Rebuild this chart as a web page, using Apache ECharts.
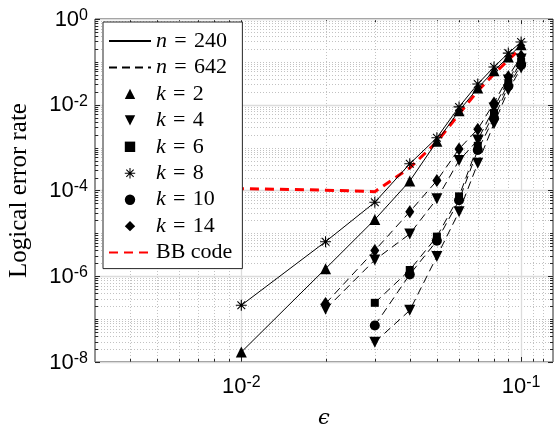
<!DOCTYPE html>
<html>
<head>
<meta charset="utf-8">
<script src="https://cdn.jsdelivr.net/npm/echarts@6/dist/echarts.min.js"></script>
<style>
html, body { margin: 0; padding: 0; background: #fff; }
#chart { width: 555px; height: 428px; }
</style>
</head>
<body>
<div id="chart"></div>
<script>
// Physical error rates sampled by each family of runs
const epsFrom1 = [0.01, 0.02, 0.03, 0.04, 0.05, 0.06, 0.07, 0.08, 0.09, 0.1];
const epsFrom2 = [0.02, 0.03, 0.04, 0.05, 0.06, 0.07, 0.08, 0.09, 0.1];
const epsFrom3 = [0.03, 0.04, 0.05, 0.06, 0.07, 0.08, 0.09, 0.1];
const epsBB    = [0.004, 0.01, 0.02, 0.03, 0.04, 0.05, 0.06, 0.07, 0.08, 0.09, 0.1];

// Logical error rates, n = 240 (solid)
const n240k2 = [1.7e-8, 1.5e-6, 2.1e-5, 1.66e-4, 1.4e-3, 7.2e-3, 2.45e-2, 6.2e-2, 0.13, 0.25];
const n240k8 = [2.1e-7, 6.4e-6, 5.3e-5, 4.2e-4, 1.7e-3, 8.9e-3, 3.05e-2, 7.6e-2, 0.16, 0.29];

// Logical error rates, n = 642 (dashed)
const n642k14 = [2.3e-7, 4.0e-6, 3.2e-5, 1.7e-4, 9.3e-4, 2.7e-3, 1.1e-2, 4.5e-2, 0.137];
const n642k4a = [1.7e-7, 2.4e-6, 9.7e-6, 6.4e-5, 5.0e-4, 1.5e-3, 8.4e-3, 3.8e-2, 0.117];
const n642k6  = [2.4e-7, 1.4e-6, 8.4e-6, 7.3e-5, 1.1e-3, 6.4e-3, 3.2e-2, 0.1];
const n642k10 = [7.1e-8, 1.1e-6, 6.7e-6, 5.9e-5, 8.8e-4, 4.9e-3, 2.7e-2, 8.5e-2];
const n642k4b = [2.9e-8, 1.6e-7, 2.9e-6, 3.2e-5, 4.3e-4, 3.6e-3, 2.2e-2, 7.2e-2];

// Reference BB code curve
const bbCode = [1.17e-4, 1.10e-4, 1.02e-4, 9.4e-5, 3.37e-4, 1.36e-3, 6.1e-3, 2.1e-2, 5.2e-2, 0.111, 0.211];

// Tick labels (powers of ten) and grid positions
const xTickExponents = [-2, -1];
const yTickExponents = [-8, -6, -4, -2, 0];
const xMajorGrid = [0.01, 0.1];
const xMinorGrid = [0.004, 0.005, 0.006, 0.007, 0.008, 0.009,
                    0.02, 0.03, 0.04, 0.05, 0.06, 0.07, 0.08, 0.09, 0.11, 0.12];
const yMajorGrid = [1e-8, 1e-6, 1e-4, 1e-2, 1];
const minorMultipliers = [2, 3, 4, 5, 6, 7, 8, 9];
const yDecades = [-8, -7, -6, -5, -4, -3, -2, -1];

const yMinorGrid = [];
yDecades.forEach(function (e) {
  if (e % 2 !== 0) yMinorGrid.push(Math.pow(10, e));
  minorMultipliers.forEach(function (m) { yMinorGrid.push(m * Math.pow(10, e)); });
});

function pairs(xs, ys) { return xs.map(function (x, i) { return [x, ys[i]]; }); }

// MATLAB-style '*' marker built from four thin bars
const asterisk = 'path://M0 9L20 9L20 11L0 11Z M9 0L11 0L11 20L9 20Z ' +
  'M2.22 3.64L3.64 2.22L17.78 16.36L16.36 17.78Z M16.36 2.22L17.78 3.64L3.64 17.78L2.22 16.36Z';

const markers = {
  'k = 2':  { symbol: 'triangle', symbolSize: 11, symbolRotate: 0 },
  'k = 4':  { symbol: 'triangle', symbolSize: 11, symbolRotate: 180 },
  'k = 6':  { symbol: 'rect', symbolSize: 8, symbolRotate: 0 },
  'k = 8':  { symbol: asterisk, symbolSize: 11, symbolRotate: 0 },
  'k = 10': { symbol: 'circle', symbolSize: 10, symbolRotate: 0 },
  'k = 14': { symbol: 'diamond', symbolSize: [9, 13], symbolRotate: 0 }
};

const solid = { color: '#000', width: 1, type: 'solid' };
const dashed = { color: '#000', width: 1, type: [8, 5] };
const hiddenSymbol = { color: '#000', opacity: 0 };

function curve(name, k, xs, ys, lineStyle) {
  const m = markers[k];
  return {
    type: 'line', name: name, data: pairs(xs, ys),
    symbol: m.symbol, symbolSize: m.symbolSize, symbolRotate: m.symbolRotate,
    showAllSymbol: true, lineStyle: lineStyle, itemStyle: { color: '#000' },
    z: 3, silent: true
  };
}

// Light grid lines plus inward tick marks on all four sides
function gridSeries(axis, values, major) {
  return {
    type: 'custom', silent: true, z: 1, clip: false,
    data: values.map(function (v) { return axis === 'x' ? [v, 1] : [0.01, v]; }),
    renderItem: function (params, api) {
      const cs = params.coordSys;
      const left = cs.x, top = cs.y, right = cs.x + cs.width, bottom = cs.y + cs.height;
      const len = major ? 5 : 3;
      const gridStyle = major
        ? { stroke: '#dcdcdc', lineWidth: 1.3 }
        : { stroke: '#c2c2c2', lineWidth: 1, lineDash: [1, 2] };
      const tickStyle = { stroke: '#262626', lineWidth: 1 };
      const p = api.coord([api.value(0), api.value(1)]);
      const children = [];
      if (axis === 'x') {
        const x = Math.round(p[0]) + 0.5;
        children.push({ type: 'line', shape: { x1: x, y1: top, x2: x, y2: bottom }, style: gridStyle });
        children.push({ type: 'line', shape: { x1: x, y1: bottom, x2: x, y2: bottom - len }, style: tickStyle });
        children.push({ type: 'line', shape: { x1: x, y1: top, x2: x, y2: top + len }, style: tickStyle });
      } else {
        const y = Math.round(p[1]) + 0.5;
        children.push({ type: 'line', shape: { x1: left, y1: y, x2: right, y2: y }, style: gridStyle });
        children.push({ type: 'line', shape: { x1: left, y1: y, x2: left + len, y2: y }, style: tickStyle });
        children.push({ type: 'line', shape: { x1: right, y1: y, x2: right - len, y2: y }, style: tickStyle });
      }
      return { type: 'group', children: children };
    }
  };
}

function powerLabel(exponents) {
  return function (value) {
    const e = Math.log10(value);
    const r = Math.round(e);
    if (Math.abs(e - r) > 1e-6 || exponents.indexOf(r) < 0) return '';
    return '{base|10}{sup|' + r + '}';
  };
}

const tickRich = {
  base: { fontFamily: 'Liberation Sans', fontSize: 22, lineHeight: 23, verticalAlign: 'bottom', color: '#000' },
  sup:  { fontFamily: 'Liberation Sans', fontSize: 16, lineHeight: 17, verticalAlign: 'top', padding: [0, 0, 12, 0], color: '#000' }
};

const lineOnly = ['n = 240', 'n = 642', 'BB code'];
const legendNames = ['n = 240', 'n = 642', 'k = 2', 'k = 4', 'k = 6', 'k = 8', 'k = 10', 'k = 14', 'BB code'];

const series = [
  gridSeries('x', xMinorGrid, false),
  gridSeries('y', yMinorGrid, false),
  gridSeries('x', xMajorGrid, true),
  gridSeries('y', yMajorGrid, true),

  // legend-only entries for line style and marker meaning
  { type: 'line', name: 'n = 240', data: [], symbol: 'none', lineStyle: solid, itemStyle: hiddenSymbol },
  { type: 'line', name: 'n = 642', data: [], symbol: 'none', lineStyle: dashed, itemStyle: hiddenSymbol },
  ...['k = 2', 'k = 4', 'k = 6', 'k = 8', 'k = 10', 'k = 14'].map(function (k) {
    const m = markers[k];
    return { type: 'line', name: k, data: [], symbol: m.symbol, symbolSize: m.symbolSize,
             symbolRotate: m.symbolRotate, itemStyle: { color: '#000' },
             lineStyle: { opacity: 0, width: 1 } };
  }),

  curve('n = 240, k = 8', 'k = 8', epsFrom1, n240k8, solid),
  curve('n = 240, k = 2', 'k = 2', epsFrom1, n240k2, solid),
  curve('n = 642, k = 14', 'k = 14', epsFrom2, n642k14, dashed),
  curve('n = 642, k = 4', 'k = 4', epsFrom2, n642k4a, dashed),
  curve('n = 642, k = 6', 'k = 6', epsFrom3, n642k6, dashed),
  curve('n = 642, k = 10', 'k = 10', epsFrom3, n642k10, dashed),
  curve('n = 642, k = 4 ', 'k = 4', epsFrom3, n642k4b, dashed),

  {
    type: 'line', name: 'BB code', data: pairs(epsBB, bbCode), symbol: 'none',
    lineStyle: { color: '#ff0000', width: 3, type: [9, 6] }, itemStyle: { color: '#ff0000', opacity: 0 },
    z: 2, silent: true
  }
];

const chart = echarts.init(document.getElementById('chart'), null, { renderer: 'canvas' });
chart.setOption({
  animation: false,
  backgroundColor: '#fff',
  grid: {
    left: 95, top: 19, width: 458, height: 343,
    show: true, borderColor: '#262626', borderWidth: 1, backgroundColor: 'transparent',
    containLabel: false, outerBoundsMode: 'none'
  },
  xAxis: {
    type: 'log', logBase: 10, min: 0.003, max: 0.13,
    axisLine: { show: false }, axisTick: { show: false },
    splitLine: { show: false }, minorTick: { show: false }, minorSplitLine: { show: false },
    axisLabel: { formatter: powerLabel(xTickExponents), margin: 13, rich: tickRich, hideOverlap: false },
    name: '\u03F5', nameLocation: 'middle', nameGap: 46,
    nameTextStyle: { fontFamily: 'DejaVu Serif', fontStyle: 'italic', fontSize: 21, color: '#000' }
  },
  yAxis: {
    type: 'log', logBase: 10, min: 1e-8, max: 1,
    axisLine: { show: false }, axisTick: { show: false },
    splitLine: { show: false }, minorTick: { show: false }, minorSplitLine: { show: false },
    axisLabel: { formatter: powerLabel(yTickExponents), margin: 7, rich: tickRich, hideOverlap: false },
    name: 'Logical error rate', nameLocation: 'middle', nameGap: 63,
    nameTextStyle: { fontFamily: 'Liberation Serif', fontSize: 25, color: '#000' }
  },
  legend: {
    data: legendNames.map(function (n) {
      return lineOnly.indexOf(n) >= 0 ? { name: n, itemStyle: { opacity: 0 } } : { name: n };
    }),
    orient: 'vertical', left: 103, top: 22,
    itemWidth: 42, itemHeight: 13, itemGap: 4.45,
    padding: [8, 10, 5, 5],
    backgroundColor: '#fff', borderColor: '#262626', borderWidth: 1, borderRadius: 0,
    selectedMode: false,
    formatter: function (name) {
      const m = /^([nk]) = (\d+)$/.exec(name);
      if (!m) return name;
      return '{it|' + m[1] + '}\u2004=\u2004' + m[2];
    },
    textStyle: {
      fontFamily: 'Liberation Serif', fontSize: 22, lineHeight: 20, color: '#000',
      rich: { it: { fontFamily: 'Liberation Serif', fontStyle: 'italic', fontSize: 22, lineHeight: 20, color: '#000' } }
    }
  },
  series: series
});
</script>
</body>
</html>
